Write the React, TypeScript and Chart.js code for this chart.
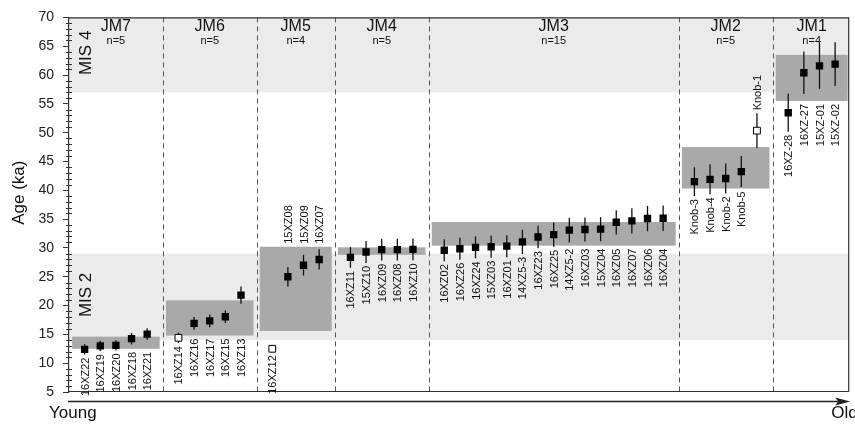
import React, { useEffect, useRef } from 'react';
import { Chart, registerables } from 'chart.js';

Chart.register(...registerables);

// ---------- data ----------
const groupNames = ['JM7', 'JM6', 'JM5', 'JM4', 'JM3', 'JM2', 'JM1'];
const groupCounts = [5, 5, 4, 5, 15, 5, 4];
const groupBoxLow = [12.5, 14.8, 15.6, 28.8, 30.4, 40.3, 55.5];
const groupBoxHigh = [14.6, 20.9, 30.2, 30.1, 34.5, 47.5, 63.5];

const misNames = ['MIS 4', 'MIS 2'];
const misLow = [57, 14];
const misHigh = [70, 29];

const yTitle = 'Age (ka)';

const sampleNames = [
  '16XZ22', '16XZ19', '16XZ20', '16XZ18', '16XZ21',
  '16XZ14', '16XZ16', '16XZ17', '16XZ15', '16XZ13',
  '16XZ12', '15XZ08', '15XZ09', '16XZ07',
  '16XZ11', '15XZ10', '16XZ09', '16XZ08', '16XZ10',
  '16XZ02', '16XZ26', '16XZ24', '15XZ03', '16XZ01', '14XZ5-3', '16XZ23', '16XZ25',
  '14XZ5-2', '16XZ03', '15XZ04', '16XZ05', '16XZ07', '16XZ06', '16XZ04',
  'Knob-3', 'Knob-4', 'Knob-2', 'Knob-5', 'Knob-1',
  '16XZ-28', '16XZ-27', '15XZ-01', '15XZ-02',
];
const sampleAges = [
  12.4, 13.0, 13.1, 14.25, 15.05,
  14.4, 16.9, 17.35, 18.05, 21.8,
  12.5, 25.0, 27.0, 28.0,
  28.35, 29.3, 29.7, 29.7, 29.75,
  29.6, 29.85, 30.1, 30.2, 30.3, 31.05, 31.9, 32.3,
  33.1, 33.2, 33.25, 34.45, 34.7, 35.1, 35.15,
  41.5, 41.9, 42.05, 43.25, 50.35,
  53.45, 60.4, 61.6, 61.9,
];
const sampleErrors = [
  0.9, 0.9, 0.9, 1.0, 1.0,
  0.9, 1.1, 1.1, 1.1, 1.5,
  0.6, 1.7, 1.8, 1.75,
  1.8, 1.9, 1.9, 1.9, 1.9,
  1.9, 1.9, 1.9, 1.9, 1.9, 2.1, 1.95, 2.1,
  2.15, 2.1, 2.1, 2.1, 2.2, 2.2, 2.2,
  2.5, 2.6, 2.6, 2.7, 3.0,
  3.3, 3.7, 4.0, 3.8,
];
const sampleOpen = [
  0, 0, 0, 0, 0,
  1, 0, 0, 0, 0,
  1, 0, 0, 0,
  0, 0, 0, 0, 0,
  0, 0, 0, 0, 0, 0, 0, 0,
  0, 0, 0, 0, 0, 0, 0,
  0, 0, 0, 0, 1,
  0, 0, 0, 0,
];
const sampleLabelAbove = [
  0, 0, 0, 0, 0,
  0, 0, 0, 0, 0,
  0, 1, 1, 1,
  0, 0, 0, 0, 0,
  0, 0, 0, 0, 0, 0, 0, 0,
  0, 0, 0, 0, 0, 0, 0,
  0, 0, 0, 0, 1,
  0, 0, 0, 0,
];

// ---------- derived layout (slot index per sample, one empty slot between groups) ----------
const sampleGroup: number[] = [];
groupCounts.forEach((c, gi) => {
  for (let i = 0; i < c; i++) sampleGroup.push(gi);
});
const samplePos = sampleGroup.map((g, i) => i + g);
const groupFirst: number[] = [];
const groupLast: number[] = [];
groupCounts.forEach((c, gi) => {
  const idx = sampleGroup.map((g, i) => (g === gi ? i : -1)).filter((i) => i >= 0);
  groupFirst.push(samplePos[idx[0]]);
  groupLast.push(samplePos[idx[idx.length - 1]]);
});

const FONT = '"Liberation Sans", Arial, Helvetica, sans-serif';

const decorPlugin = {
  id: 'decor',
  beforeDraw(chart: any) {
    const { ctx, chartArea: a, scales } = chart;
    const x = scales.x;
    const y = scales.y;
    ctx.save();
    // MIS bands
    ctx.fillStyle = '#ebebeb';
    misLow.forEach((lo, i) => {
      const y1 = y.getPixelForValue(misHigh[i]);
      const y2 = y.getPixelForValue(lo);
      ctx.fillRect(a.left, y1, a.right - a.left, y2 - y1);
    });
    // group boxes
    ctx.fillStyle = '#a9a9a9';
    groupNames.forEach((_, gi) => {
      const x1 = Math.max(x.getPixelForValue(groupFirst[gi] - 0.8), a.left + 1);
      const x2 = Math.min(x.getPixelForValue(groupLast[gi] + 0.8), a.right);
      const y1 = y.getPixelForValue(groupBoxHigh[gi]);
      const y2 = y.getPixelForValue(groupBoxLow[gi]);
      ctx.fillRect(x1, y1, x2 - x1, y2 - y1);
    });
    // dashed separators
    ctx.strokeStyle = '#555';
    ctx.lineWidth = 1;
    ctx.setLineDash([5, 4]);
    groupNames.forEach((_, gi) => {
      if (gi === groupNames.length - 1) return;
      const px = Math.round(x.getPixelForValue(groupLast[gi] + 1)) + 0.5;
      ctx.beginPath();
      ctx.moveTo(px, a.top);
      ctx.lineTo(px, a.bottom);
      ctx.stroke();
    });
    ctx.setLineDash([]);
    ctx.restore();
  },
  beforeDatasetsDraw(chart: any) {
    const { ctx, scales } = chart;
    const x = scales.x;
    const y = scales.y;
    ctx.save();
    ctx.strokeStyle = '#111';
    ctx.lineWidth = 1.3;
    sampleAges.forEach((v, i) => {
      const px = x.getPixelForValue(samplePos[i]);
      ctx.beginPath();
      ctx.moveTo(px, y.getPixelForValue(v + sampleErrors[i]));
      ctx.lineTo(px, y.getPixelForValue(v - sampleErrors[i]));
      ctx.stroke();
    });
    // minor ticks on y axis
    ctx.strokeStyle = '#333';
    ctx.lineWidth = 1;
    for (let v = y.min; v <= y.max; v += 1) {
      if (v % 5 === 0) continue;
      const py = Math.round(y.getPixelForValue(v)) + 0.5;
      ctx.beginPath();
      ctx.moveTo(chart.chartArea.left - 3, py);
      ctx.lineTo(chart.chartArea.left + 3, py);
      ctx.stroke();
    }
    ctx.restore();
  },
  afterDatasetsDraw(chart: any) {
    const { ctx, chartArea: a, scales } = chart;
    const x = scales.x;
    const y = scales.y;
    ctx.save();
    // frame
    ctx.strokeStyle = '#333';
    ctx.lineWidth = 1.2;
    ctx.beginPath();
    ctx.moveTo(a.left, a.top + 0.5);
    ctx.lineTo(a.right - 0.5, a.top + 0.5);
    ctx.lineTo(a.right - 0.5, a.bottom - 0.5);
    ctx.lineTo(a.left, a.bottom - 0.5);
    ctx.stroke();

    // y title
    ctx.save();
    ctx.fillStyle = '#111';
    ctx.font = `17px ${FONT}`;
    ctx.translate(a.left - 50, (a.top + a.bottom) / 2 - 12);
    ctx.rotate(-Math.PI / 2);
    ctx.textAlign = 'center';
    ctx.textBaseline = 'middle';
    ctx.fillText(yTitle, 0, 0);
    ctx.restore();

    // group titles
    ctx.fillStyle = '#111';
    ctx.textAlign = 'center';
    ctx.textBaseline = 'middle';
    groupNames.forEach((name, gi) => {
      const cx = x.getPixelForValue((groupFirst[gi] + groupLast[gi]) / 2);
      ctx.font = `16px ${FONT}`;
      ctx.fillText(name, cx, a.top + 9);
      ctx.font = `11px ${FONT}`;
      ctx.fillText(`n=${groupCounts[gi]}`, cx, a.top + 24);
    });

    // MIS labels
    ctx.font = `17px ${FONT}`;
    misNames.forEach((name, i) => {
      const cy = y.getPixelForValue((misLow[i] + misHigh[i]) / 2) - 2;
      ctx.save();
      ctx.translate(a.left + 17, cy);
      ctx.rotate(-Math.PI / 2);
      ctx.textAlign = 'center';
      ctx.textBaseline = 'middle';
      ctx.fillText(name, 0, 0);
      ctx.restore();
    });

    // sample labels
    ctx.font = `11px ${FONT}`;
    sampleNames.forEach((name, i) => {
      const gi = sampleGroup[i];
      const px = x.getPixelForValue(samplePos[i]);
      const v = sampleAges[i];
      const e = sampleErrors[i];
      ctx.save();
      if (sampleLabelAbove[i]) {
        const anchor = Math.min(y.getPixelForValue(v + e), y.getPixelForValue(groupBoxHigh[gi])) - 3;
        ctx.translate(px, anchor);
        ctx.rotate(-Math.PI / 2);
        ctx.textAlign = 'left';
      } else {
        const anchor = Math.max(y.getPixelForValue(v - e), y.getPixelForValue(groupBoxLow[gi])) + 3;
        ctx.translate(px, anchor);
        ctx.rotate(-Math.PI / 2);
        ctx.textAlign = 'right';
      }
      ctx.textBaseline = 'middle';
      ctx.fillText(name, 0, 1);
      ctx.restore();
    });

    // time arrow
    const ay = a.bottom + 9.5;
    ctx.strokeStyle = '#222';
    ctx.fillStyle = '#222';
    ctx.lineWidth = 1.6;
    ctx.beginPath();
    ctx.moveTo(a.left - 1, ay);
    ctx.lineTo(a.right - 6, ay);
    ctx.stroke();
    ctx.beginPath();
    ctx.moveTo(a.right + 1, ay);
    ctx.lineTo(a.right - 14, ay - 4);
    ctx.lineTo(a.right - 11, ay);
    ctx.lineTo(a.right - 14, ay + 4);
    ctx.closePath();
    ctx.fill();
    ctx.font = `17px ${FONT}`;
    ctx.fillStyle = '#111';
    ctx.textAlign = 'left';
    ctx.textBaseline = 'middle';
    ctx.fillText('Young', a.left - 20, a.bottom + 21);
    ctx.fillText('Old', a.right - 18, a.bottom + 21);
    ctx.restore();
  },
};

export default function App() {
  const canvasRef = useRef<HTMLCanvasElement | null>(null);

  useEffect(() => {
    if (!canvasRef.current) return;
    const chart = new Chart(canvasRef.current, {
      type: 'scatter',
      data: {
        datasets: [
          {
            data: sampleAges.map((v, i) => ({ x: samplePos[i], y: v })),
            pointStyle: 'rect',
            pointRadius: sampleOpen.map((o) => (o ? 4.8 : 5.2)),
            pointBackgroundColor: sampleOpen.map((o) => (o ? '#ffffff' : '#000000')),
            pointBorderColor: '#000000',
            pointBorderWidth: sampleOpen.map((o) => (o ? 1 : 0)),
            showLine: false,
          },
        ],
      },
      options: {
        responsive: false,
        animation: false,
        events: [],
        devicePixelRatio: 1,
        layout: { padding: { top: 14, right: 3, bottom: 33, left: 0 } },
        plugins: {
          legend: { display: false },
          tooltip: { enabled: false },
        },
        scales: {
          x: {
            type: 'linear',
            min: -1,
            max: 48.9,
            display: false,
          },
          y: {
            type: 'linear',
            min: 5,
            max: 70,
            afterFit: (scale: any) => {
              scale.width = 69;
            },
            ticks: {
              stepSize: 5,
              padding: 9,
              color: '#222',
              font: { family: FONT, size: 14 },
            },
            grid: {
              display: true,
              drawOnChartArea: false,
              drawTicks: true,
              tickLength: 6,
              color: '#333',
            },
            border: { display: true, color: '#333', width: 1.2 },
            title: { display: false },
          },
        },
      },
      plugins: [decorPlugin],
    });
    return () => chart.destroy();
  }, []);

  return (
    <div style={{ position: 'absolute', left: 0, top: 0, width: 855, height: 425 }}>
      <canvas ref={canvasRef} width={855} height={425} />
    </div>
  );
}
